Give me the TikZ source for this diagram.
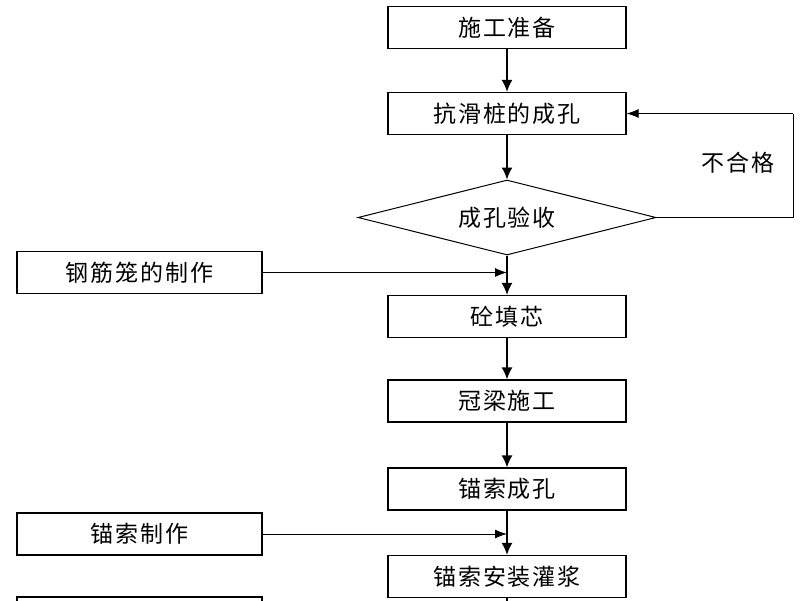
\documentclass[tikz,border=0pt]{standalone}
\usepackage{fontspec}
\newfontfamily\cjk[LetterSpace=8]{Noto Sans CJK SC}
\usetikzlibrary{shapes.geometric,arrows.meta}
\begin{document}
\begin{tikzpicture}[x=1pt,y=-1pt,
  txt/.style={font=\cjk\fontsize{23}{27}\selectfont},
  box/.style={draw,line width=1.2pt,rectangle,minimum width=238pt,minimum height=42pt,inner sep=0pt,txt},
  sidebox/.style={box,minimum width=245pt},
  flow/.style={line width=1.6pt,-{Latex[length=12pt,width=11pt]}},
  feed/.style={line width=0.9pt,-{Latex[length=12pt,width=9pt]}},
  plain/.style={line width=1.6pt}]
\useasboundingbox (0,0) rectangle (800,600);
\clip (0,0) rectangle (800,600);
\node[box] (b1) at (507,27.5) {施工准备};
\node[box] (b2) at (507,113.5) {抗滑桩的成孔};
\node[draw,line width=1pt,diamond,shape aspect=4,minimum width=298pt,minimum height=75pt,inner sep=0pt,txt] (d) at (507,217.5) {成孔验收};
\node[sidebox] (s1) at (139.5,272.5) {钢筋笼的制作};
\node[box] (b3) at (507,316.5) {砼填芯};
\node[box] (b4) at (507,401) {冠梁施工};
\node[box] (b5) at (507,489) {锚索成孔};
\node[sidebox] (s2) at (139.5,534) {锚索制作};
\node[box] (b6) at (507,576.5) {锚索安装灌浆};
\node[sidebox] (s3) at (139.5,618) {};
\node[txt] (ng) at (738,163) {不合格};
\coordinate (j1) at (d.south |- s1.east);
\coordinate (j2) at (b5.south |- s2.east);
\coordinate (fr) at (793,217.5);
\coordinate (fu) at (793,113.5);
\coordinate (bot) at (507,620);
\draw[flow] (b1.south) -- (b2.north);
\draw[flow] (b2.south) -- (d.north);
\draw[flow] (d.south) -- (b3.north);
\draw[flow] (b3.south) -- (b4.north);
\draw[flow] (b4.south) -- (b5.north);
\draw[flow] (b5.south) -- (b6.north);
\draw[plain] (b6.south) -- (bot);
\draw[feed] (s1.east) -- (j1);
\draw[feed] (s2.east) -- (j2);
\draw[line width=1pt] (d.east) -- (fr) -- (fu);
\draw[feed] (fu) -- (b2.east);
\end{tikzpicture}
\end{document}
